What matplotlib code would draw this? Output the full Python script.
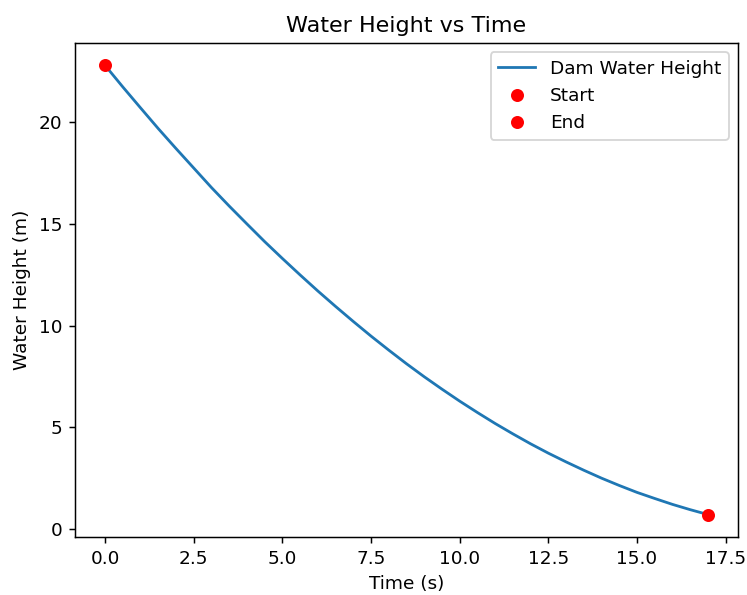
import matplotlib
matplotlib.use('Agg')
import matplotlib.pyplot as plt

# values (every half second)
time_s = [0, 0.5, 1, 1.5, 2, 2.5, 3, 3.5, 4, 4.5, 5, 5.5, 6, 6.5, 7, 7.5, 8,
          8.5, 9, 9.5, 10, 10.5, 11, 11.5, 12, 12.5, 13, 13.5, 14, 14.5, 15,
          15.5, 16, 16.5, 17]
height_m = [22.80, 21.74, 20.71, 19.69, 18.71, 17.75, 16.79, 15.88, 15.00,
            14.13, 13.30, 12.49, 11.70, 10.94, 10.20, 9.48, 8.79, 8.12, 7.48,
            6.87, 6.28, 5.72, 5.18, 4.67, 4.18, 3.72, 3.29, 2.88, 2.49, 2.13,
            1.79, 1.49, 1.20, 0.94, 0.70]

start = (time_s[0], height_m[0])
end = (time_s[-1], height_m[-1])

DPI = 133.7
fig = plt.figure(figsize=(747 / DPI, 595 / DPI), dpi=DPI)
ax = fig.add_subplot(111)
fig.subplots_adjust(left=0.1004, right=0.988, bottom=0.0975, top=0.9277)

ax.plot(time_s, height_m, label='Dam Water Height')
ax.plot(start[0], start[1], 'ro', label='Start')
ax.plot(end[0], end[1], 'ro', label='End')

ax.set_title('Water Height vs Time')
ax.set_xlabel('Time (s)')
ax.set_ylabel('Water Height (m)')
ax.legend(loc='upper right')

fig.savefig('out.png', dpi=DPI)
